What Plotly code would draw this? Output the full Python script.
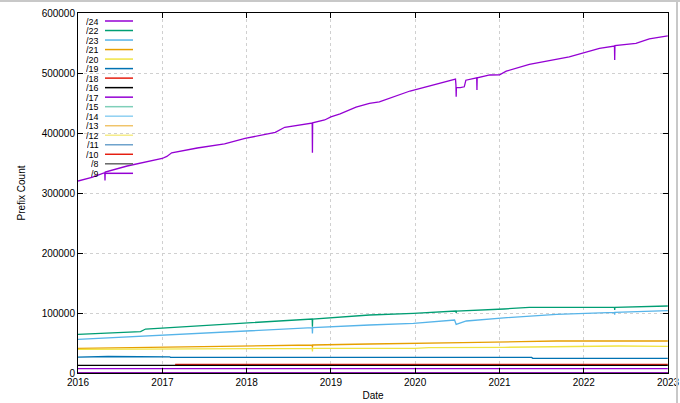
import plotly.graph_objects as go

# ---------------- data ----------------
d24 = ["2016-01-01","2016-03-01","2016-04-26","2016-04-27","2016-04-28","2016-08-01","2016-12-31",
       "2017-01-20","2017-02-10","2017-06-01","2017-09-27","2017-12-25","2018-05-05","2018-06-15",
       "2018-09-20","2018-10-12","2018-10-13","2018-10-14","2018-12-05","2019-01-01","2019-02-10",
       "2019-04-20","2019-06-17","2019-07-30","2019-12-10","2020-04-01","2020-06-24","2020-06-26",
       "2020-06-27","2020-06-28","2020-07-15","2020-08-01","2020-08-08","2020-09-24","2020-09-25",
       "2020-09-26","2020-11-20","2021-01-01","2021-01-30","2021-05-10","2021-10-30","2022-03-10",
       "2022-05-14","2022-05-15","2022-05-16","2022-08-15","2022-10-12","2022-12-31"]
v24 = [320000,326000,334000,321000,335000,345000,357500,
       361000,367000,375000,382000,391000,401000,409500,
       415000,416500,367000,417000,421700,427000,432000,
       443000,449500,452000,470000,481000,490000,480000,
       460500,476000,475500,477000,488000,492000,471700,
       492000,496700,497000,503000,514500,527000,541000,
       545000,521700,545500,549500,556700,561700]

d22 = ["2016-01-01","2016-09-28","2016-10-20","2017-12-10","2018-10-12","2018-10-13","2018-10-14",
       "2019-06-17","2019-12-25","2020-06-26","2020-06-27","2020-06-28","2021-01-20","2021-05-10",
       "2022-05-14","2022-05-15","2022-05-16","2022-12-31"]
v22 = [64500,68900,73300,82800,90000,77000,90000,
       96700,99400,103300,100000,103300,106700,109400,
       109400,105000,109500,111700]

d23 = ["2016-01-01","2017-02-25","2017-12-10","2018-10-12","2018-10-13","2018-10-14","2019-06-17",
       "2019-12-25","2020-06-20","2020-06-27","2020-08-10","2021-01-20","2021-09-05","2022-05-14",
       "2022-05-15","2022-05-16","2022-12-31"]
v23 = [56100,64500,70000,75500,66000,75500,80000,
       82800,88300,81000,86700,92000,97800,101000,
       97000,101000,103900]

d21 = ["2016-01-01","2016-11-15","2017-12-10","2018-10-12","2018-10-13","2018-10-14","2019-06-17",
       "2020-06-26","2020-07-25","2021-04-01","2021-09-05","2022-12-31"]
v21 = [41100,42800,45000,46700,42000,46700,48300,49400,50500,52200,53300,53300]

d20 = ["2016-01-01","2017-12-10","2018-10-12","2018-10-13","2018-10-14","2019-12-31","2020-03-01",
       "2021-01-20","2021-09-05","2022-06-01","2022-12-31"]
v20 = [39400,41100,41100,36000,41100,41100,42200,42800,43900,45000,44500]

d19 = ["2016-01-01","2016-05-10","2017-02-01","2017-02-05","2021-05-20","2021-05-25","2022-12-31"]
v19 = [26500,27500,27000,26000,26000,24500,24500]

d18 = ["2017-02-25","2022-12-31"]
v18 = [14400,14400]

dflat = ["2016-01-01","2022-12-31"]
v16 = [12800,12800]
v17 = [7200,7200]
v15 = [700,700]
v14 = [400,400]
v13 = [150,150]
v12 = [80,80]
v11 = [30,30]
v10 = [15,15]
v8 = [15,15]
v9 = [10,10]

labels = ["/24","/22","/23","/21","/20","/19","/18","/16","/17",
          "/15","/14","/13","/12","/11","/10","/8","/9"]
xs = [d24,d22,d23,d21,d20,d19,d18,dflat,dflat,
      dflat,dflat,dflat,dflat,dflat,dflat,dflat,dflat]
ys = [v24,v22,v23,v21,v20,v19,v18,v16,v17,
      v15,v14,v13,v12,v11,v10,v8,v9]
colors = ["#9400d3","#009e73","#56b4e9","#e69f00","#f0e442","#0072b2","#e51e10","#000000","#9400d3",
          "#7fcfb9","#8fd0f2","#f0c46a","#f5ec8a","#6fa3cc","#e51e10","#666666","#9400d3"]

# ---------------- figure ----------------
W, H = 680, 403
L, R, T, B = 78, 668, 13, 373

fig = go.Figure()
for lab, x, y, c in zip(labels, xs, ys, colors):
    fig.add_trace(go.Scatter(x=x, y=y, mode="lines", name=lab,
                             line=dict(color=c, width=1.3), showlegend=False))

font = dict(family="Liberation Sans, Arial, sans-serif", size=10, color="#000000")
lfont = dict(family="Liberation Sans, Arial, sans-serif", size=9, color="#000000")

def px_x(p):
    return (p - L) / (R - L)

def px_y(p):
    return (B - p) / (B - T)

shapes = []
annotations = []
for i, (lab, c) in enumerate(zip(labels, colors)):
    yy = px_y(21 + 9.52 * i)
    annotations.append(dict(xref="paper", yref="paper", x=px_x(100), y=yy, text=lab,
                            showarrow=False, xanchor="right", yanchor="middle", font=lfont,
                            borderpad=0, height=9))
    shapes.append(dict(type="line", xref="paper", yref="paper", x0=px_x(105), x1=px_x(133),
                       y0=yy, y1=yy, line=dict(color=c, width=1.5)))

# outer screenshot frame lines (top, right)
shapes.append(dict(type="line", xref="paper", yref="paper", x0=px_x(0), x1=px_x(680),
                   y0=px_y(1), y1=px_y(1), line=dict(color="#c8c8c8", width=2)))
shapes.append(dict(type="line", xref="paper", yref="paper", x0=px_x(677), x1=px_x(677),
                   y0=px_y(0), y1=px_y(403), line=dict(color="#c8c8c8", width=2)))

fig.update_layout(
    width=W, height=H,
    margin=dict(l=L, r=W - R, t=T, b=H - B, pad=0, autoexpand=False),
    paper_bgcolor="white", plot_bgcolor="white",
    font=font,
    shapes=shapes, annotations=annotations,
    showlegend=False,
)
fig.update_xaxes(
    type="date", range=["2016-01-01", "2023-01-01"], dtick="M12", tickformat="%Y",
    ticks="inside", ticklen=5, tickcolor="#000", showline=True, linecolor="#000", linewidth=1,
    mirror="ticks", showgrid=True, gridcolor="#d0d0d0", griddash="dot", gridwidth=1,
    title=dict(text="Date", font=font, standoff=4), tickfont=font, zeroline=False,
    automargin=False,
)
fig.update_yaxes(
    range=[0, 600000], dtick=100000, tickformat="d",
    ticks="inside", ticklen=5, tickcolor="#000", showline=True, linecolor="#000", linewidth=1,
    mirror="ticks", showgrid=True, gridcolor="#d0d0d0", griddash="dot", gridwidth=1,
    title=dict(text="Prefix Count", font=font, standoff=14), tickfont=font, zeroline=False,
    automargin=False,
)

fig.write_html("out.html", config={"displayModeBar": False},
               post_script="document.body.style.margin='0';document.body.style.padding='0';")
